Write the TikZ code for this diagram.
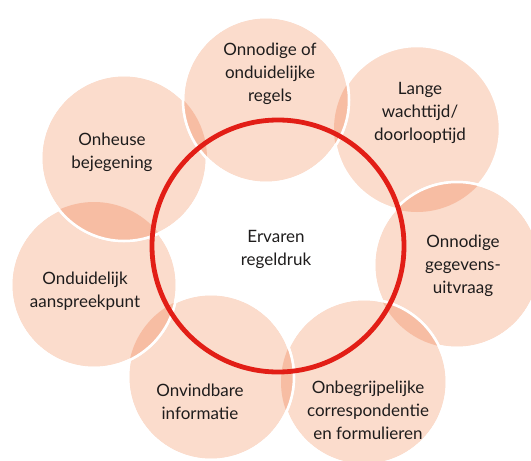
\documentclass[tikz,border=0pt]{standalone}
\usepackage{fontspec}
\setmainfont{Lato}
\usepackage{tikz}
\usetikzlibrary{positioning}

\definecolor{peach}{RGB}{251,220,204}
\definecolor{peachdark}{RGB}{247,189,163}
\definecolor{ringred}{RGB}{226,30,22}
\definecolor{txtgray}{RGB}{30,28,28}

\tikzset{
  bubble/.style={fill=peach, draw=white, line width=2.5pt},
  lens/.style={fill=peachdark},
  rim/.style={draw=white, line width=2.5pt},
  lbl/.style={align=center, text=txtgray, font=\fontsize{17}{23}\selectfont}
}

\begin{document}
\begin{tikzpicture}[x=1pt, y=-1pt]

  \useasboundingbox (0,0) rectangle (531,461);
  \def\rad{83}

  % centres of the seven bubbles
  \coordinate (regels)   at (266,100);
  \coordinate (lange)    at (417,129);
  \coordinate (gegevens) at (457,265);
  \coordinate (onbegr)   at (364,382);
  \coordinate (onvind)   at (211,377);
  \coordinate (onduid)   at (94,285);
  \coordinate (onheuse)  at (124,158);
  \coordinate (kern)     at (278,246);

  % Lange wachttijd - drawn first
  \filldraw[bubble] (lange) circle (\rad);

  % Gegevensuitvraag - over Lange
  \filldraw[bubble] (gegevens) circle (\rad);
  \begin{scope}
    \clip (lange) circle (\rad);
    \fill[lens] (gegevens) circle (\rad);
  \end{scope}
  \draw[rim] (gegevens) circle (\rad);

  % Onbegrijpelijke correspondentie - over gegevens
  \filldraw[bubble] (onbegr) circle (\rad);
  \begin{scope}
    \clip (gegevens) circle (\rad);
    \fill[lens] (onbegr) circle (\rad);
  \end{scope}
  \draw[rim] (onbegr) circle (\rad);

  % Onvindbare informatie - over onbegrijpelijke
  \filldraw[bubble] (onvind) circle (\rad);
  \begin{scope}
    \clip (onbegr) circle (\rad);
    \fill[lens] (onvind) circle (\rad);
  \end{scope}
  \draw[rim] (onvind) circle (\rad);

  % Onduidelijk aanspreekpunt - over onvindbare
  \filldraw[bubble] (onduid) circle (\rad);
  \begin{scope}
    \clip (onvind) circle (\rad);
    \fill[lens] (onduid) circle (\rad);
  \end{scope}
  \draw[rim] (onduid) circle (\rad);

  % Onheuse bejegening - over onduidelijk
  \filldraw[bubble] (onheuse) circle (\rad);
  \begin{scope}
    \clip (onduid) circle (\rad);
    \fill[lens] (onheuse) circle (\rad);
  \end{scope}
  \draw[rim] (onheuse) circle (\rad);

  % Onnodige regels - on top, overlaps onheuse and lange
  \filldraw[bubble] (regels) circle (\rad);
  \begin{scope}
    \clip (onheuse) circle (\rad);
    \fill[lens] (regels) circle (\rad);
  \end{scope}
  \begin{scope}
    \clip (lange) circle (\rad);
    \fill[lens] (regels) circle (\rad);
  \end{scope}
  \draw[rim] (regels) circle (\rad);

  % red ring
  \draw[ringred, line width=4.8pt] (kern) circle (126);

  % labels
  \node[lbl] (tregels)   at (270,74)  {Onnodige of\\onduidelijke\\regels};
  \node[lbl] (tlange)    at (420,113) {Lange\\wachttijd/\\doorlooptijd};
  \node[lbl] (tgegevens) at (463,266) {Onnodige\\gegevens-\\uitvraag};
  \node[lbl] (tonbegr)   at (368,410) {Onbegrijpelijke\\correspondentie\\en formulieren};
  \node[lbl] (tonvind)   at (200,402) {Onvindbare\\informatie};
  \node[lbl] (tonduid)   at (85,291)  {Onduidelijk\\aanspreekpunt};
  \node[lbl] (tonheuse)  at (112,152) {Onheuse\\bejegening};
  \node[lbl] (tkern)     at (276,249) {Ervaren\\regeldruk};

\end{tikzpicture}
\end{document}
